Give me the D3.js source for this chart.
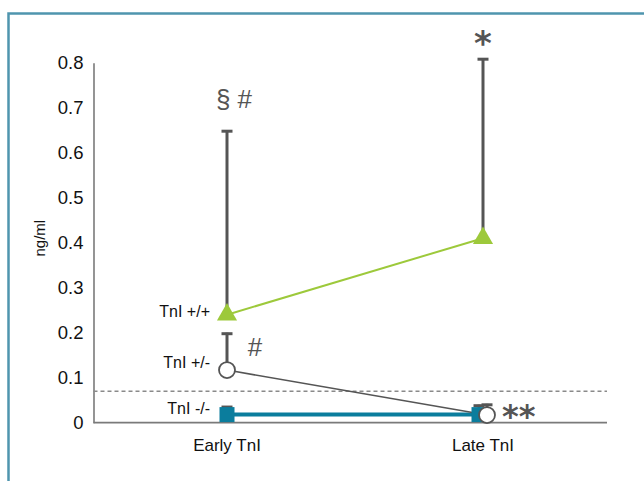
<!DOCTYPE html>
<html>
<head>
<meta charset="utf-8">
<script src="https://cdn.jsdelivr.net/npm/d3@7"></script>
<style>
  html, body { margin: 0; padding: 0; background: #fff; }
  svg { display: block; }
  .tick text { font-family: "Liberation Sans", Arial, sans-serif; }
</style>
</head>
<body>
<svg id="chart" width="644" height="481"></svg>
<script>
// Serum troponin I by phenotype, early vs late sampling
const categories = ["Early TnI", "Late TnI"];
const seriesNames = ["TnI +/+", "TnI +/-", "TnI -/-"];
const meanPlusPlus = [0.24, 0.41];
const upperPlusPlus = [0.65, 0.81];
const meanPlusMinus = [0.117, 0.017];
const upperPlusMinus = [0.20, 0.042];
const meanMinusMinus = [0.018, 0.018];
const upperMinusMinus = [0.037, 0.04];
const cutoff = 0.07;
const yTicks = [0, 0.1, 0.2, 0.3, 0.4, 0.5, 0.6, 0.7, 0.8];
const yLabel = "ng/ml";
const marksEarly = ["§ #", "#"];
const marksLate = ["*", "**"];

const svg = d3.select("#chart");

// framed panel
svg.append("rect")
  .attr("x", 8.5).attr("y", 13.5)
  .attr("width", 700).attr("height", 520)
  .attr("fill", "none")
  .attr("stroke", "#4f95ae")
  .attr("stroke-width", 2.5);

const axisX0 = 93.5, axisX1 = 607;
const y = d3.scaleLinear().domain([0, 0.8]).range([422.7, 62.7]);
const x = d3.scalePoint().domain(categories).range([227, 483]);

// small horizontal nudges at the late time point keep overlapping markers apart
const nudge = { "TnI +/+": [0, 0], "TnI +/-": [0, 4], "TnI -/-": [0, -4] };

const series = [
  { name: seriesNames[0], mean: meanPlusPlus, upper: upperPlusPlus },
  { name: seriesNames[1], mean: meanPlusMinus, upper: upperPlusMinus },
  { name: seriesNames[2], mean: meanMinusMinus, upper: upperMinusMinus }
];
const px = (s, i) => x(categories[i]) + nudge[s.name][i];

// y axis
const yAxis = svg.append("g")
  .attr("transform", `translate(${axisX0},0)`)
  .call(d3.axisLeft(y).tickValues(yTicks).tickSize(0).tickPadding(10)
    .tickFormat(d => d === 0 ? "0" : d3.format(".1f")(d)));
yAxis.select(".domain").attr("stroke", "#7a7a7a").attr("stroke-width", 1.6);
yAxis.selectAll(".tick text").attr("font-size", 18.5).attr("fill", "#111").attr("dy", "0.34em");

svg.append("text")
  .attr("transform", `translate(45,${y(0.41)}) rotate(-90)`)
  .attr("text-anchor", "middle")
  .attr("font-family", "Liberation Sans, Arial, sans-serif")
  .attr("font-size", 15)
  .attr("fill", "#111")
  .text(yLabel);

// x axis line
svg.append("line")
  .attr("x1", axisX0).attr("x2", axisX1)
  .attr("y1", y(0)).attr("y2", y(0))
  .attr("stroke", "#7a7a7a").attr("stroke-width", 1.8);

// category labels
svg.selectAll(".xlab").data(categories).join("text")
  .attr("class", "xlab")
  .attr("x", d => x(d))
  .attr("y", 451)
  .attr("text-anchor", "middle")
  .attr("font-family", "Liberation Sans, Arial, sans-serif")
  .attr("font-size", 17)
  .attr("fill", "#111")
  .text(d => d);

// upper reference limit
svg.append("line")
  .attr("x1", axisX0).attr("x2", axisX1)
  .attr("y1", y(cutoff)).attr("y2", y(cutoff))
  .attr("stroke", "#8a8a8a").attr("stroke-width", 1.4)
  .attr("stroke-dasharray", "4,3");

// error bars (upper only)
series.forEach(s => {
  s.mean.forEach((m, i) => {
    const cx = px(s, i);
    svg.append("line")
      .attr("x1", cx).attr("x2", cx)
      .attr("y1", y(s.upper[i])).attr("y2", y(m))
      .attr("stroke", "#555").attr("stroke-width", 3);
    svg.append("line")
      .attr("x1", cx - 5.5).attr("x2", cx + 5.5)
      .attr("y1", y(s.upper[i]) + 1).attr("y2", y(s.upper[i]) + 1)
      .attr("stroke", "#555").attr("stroke-width", 3);
  });
});

const line = s => d3.line().x((d, i) => px(s, i)).y(d => y(d))(s.mean);

// connecting lines
svg.append("path").attr("d", line(series[2]))
  .attr("fill", "none").attr("stroke", "#0b7d9d").attr("stroke-width", 4);
svg.append("path").attr("d", line(series[1]))
  .attr("fill", "none").attr("stroke", "#555").attr("stroke-width", 1.6);
svg.append("path").attr("d", line(series[0]))
  .attr("fill", "none").attr("stroke", "#9dc93b").attr("stroke-width", 2);

// markers
series[2].mean.forEach((m, i) => {
  svg.append("rect")
    .attr("x", px(series[2], i) - 7.5).attr("y", y(m) - 7.5)
    .attr("width", 15).attr("height", 15)
    .attr("fill", "#0b7d9d");
});
series[1].mean.forEach((m, i) => {
  svg.append("circle")
    .attr("cx", px(series[1], i)).attr("cy", y(m)).attr("r", 8)
    .attr("fill", "#fff").attr("stroke", "#555").attr("stroke-width", 1.8);
});
series[0].mean.forEach((m, i) => {
  svg.append("path")
    .attr("transform", `translate(${px(series[0], i)},${y(m)})`)
    .attr("d", d3.symbol(d3.symbolTriangle, 175)())
    .attr("fill", "#9dc93b");
});

// series labels beside the early points
const labelY = [y(meanPlusPlus[0]) - 3, y(meanPlusMinus[0]) - 8, y(upperMinusMinus[0]) + 2];
series.forEach((s, k) => {
  svg.append("text")
    .attr("x", 210).attr("y", labelY[k])
    .attr("dy", "0.35em")
    .attr("text-anchor", "end")
    .attr("font-family", "Liberation Sans, Arial, sans-serif")
    .attr("font-size", 16)
    .attr("fill", "#111")
    .text(s.name);
});

// significance marks
const markFont = "DejaVu Sans, Liberation Sans, sans-serif";
svg.append("text")
  .attr("x", x(categories[0]) + 7).attr("y", y(upperPlusPlus[0]) - 22)
  .attr("text-anchor", "middle")
  .attr("font-family", "Liberation Sans, Arial, sans-serif")
  .attr("font-size", 26).attr("fill", "#555")
  .text(marksEarly[0]);
svg.append("text")
  .attr("x", x(categories[0]) + 28).attr("y", y(upperPlusMinus[0]) + 23)
  .attr("text-anchor", "middle")
  .attr("font-family", "Liberation Sans, Arial, sans-serif")
  .attr("font-size", 26).attr("fill", "#555")
  .text(marksEarly[1]);
svg.append("text")
  .attr("x", x(categories[1])).attr("y", y(upperPlusPlus[1]) - 3)
  .attr("text-anchor", "middle")
  .attr("font-family", markFont).attr("font-weight", "bold")
  .attr("font-size", 34).attr("fill", "#555")
  .text(marksLate[0]);
svg.append("text")
  .attr("x", x(categories[1]) + 19).attr("y", y(meanPlusMinus[1]) + 12)
  .attr("text-anchor", "start")
  .attr("font-family", markFont).attr("font-weight", "bold")
  .attr("font-size", 32).attr("fill", "#555")
  .text(marksLate[1]);
</script>
</body>
</html>
